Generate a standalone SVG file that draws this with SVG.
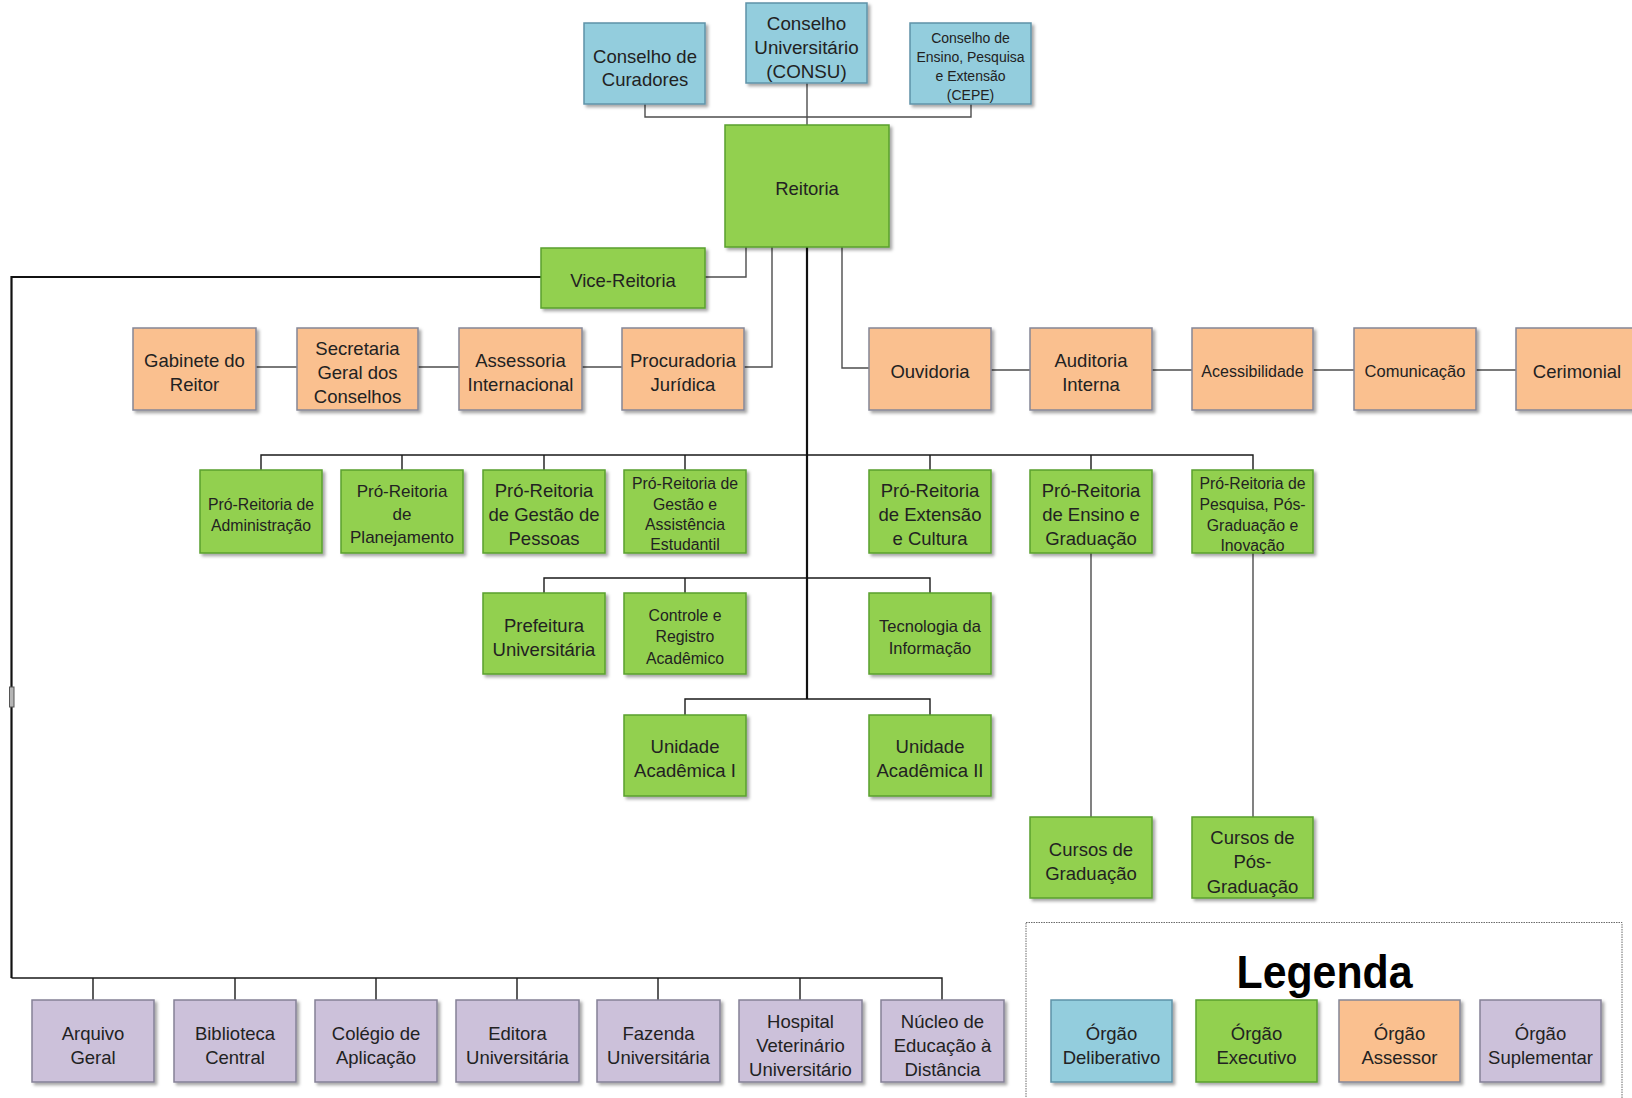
<svg xmlns="http://www.w3.org/2000/svg" width="1632" height="1098" viewBox="0 0 1632 1098">
<defs>
<filter id="sh" x="-10%" y="-10%" width="125%" height="130%">
<feDropShadow dx="2.5" dy="2.5" stdDeviation="1.5" flood-color="#000" flood-opacity="0.35"/>
</filter>
<style>
.box{stroke-width:1.5;filter:url(#sh)}
.blue{fill:#93CDDD;stroke:#5f93a8}
.green{fill:#92D050;stroke:#59a02e}
.orange{fill:#FAC08F;stroke:#858797}
.purple{fill:#CCC1DA;stroke:#858197}
text{font-family:"Liberation Sans",Arial,sans-serif;fill:#222;text-anchor:middle}
.t{font-size:18.5px}
.s{font-size:15.8px}
.m{font-size:17px}
.xs{font-size:14px}
.c{fill:none;stroke:#4d4d4d;stroke-width:1.4}
.k{fill:none;stroke:#1a1a1a;stroke-width:1.4}
.K{fill:none;stroke:#111;stroke-width:2.2}
</style>
</defs>
<rect width="1632" height="1098" fill="#fff"/>

<g id="connectors">
<path class="c" d="M645,104 V117 H971 V104"/>
<path class="c" d="M807,83 V125"/>
<path class="c" d="M705,277 H746 V247"/>
<path class="c" d="M744,367 H772 V247"/>
<path class="c" d="M842,247 V368 H869"/>
<path class="c" d="M256,367 H297 M418,367 H459 M582,367 H622"/>
<path class="c" d="M991,370 H1030 M1152,370 H1192 M1313,370 H1354 M1476,370 H1516"/>
<path class="c" d="M1091,553 V817 M1253,553 V817"/>
<path class="k" d="M261,470 V455 H1253 V470 M402,455 V470 M544,455 V470 M685,455 V470 M930,455 V470 M1091,455 V470"/>
<path class="k" d="M544,593 V578 H930 V593 M685,578 V593"/>
<path class="k" d="M685,715 V699 H930 V715"/>
<path class="k" d="M11.5,978 H942 V1000 M93,978 V1000 M235,978 V1000 M376,978 V1000 M517,978 V1000 M658,978 V1000 M800,978 V1000"/>
<path class="K" d="M807,247 V699"/>
<path class="K" d="M541,277 H11.5 V978"/>
<rect x="9.5" y="687" width="4.5" height="20" fill="#b5b5b5" stroke="#555" stroke-width="1"/>
</g>

<g id="curadores"><rect class="box blue" x="584" y="23" width="121" height="81"/>
<text class="t"><tspan x="645" y="62.5">Conselho de</tspan><tspan x="645" y="86">Curadores</tspan></text></g>
<g id="consu"><rect class="box blue" x="746" y="3" width="121" height="80"/>
<text class="t" style="font-size:18.8px"><tspan x="806.5" y="29.5">Conselho</tspan><tspan x="806.5" y="53.5">Universitário</tspan><tspan x="806.5" y="77.5">(CONSU)</tspan></text></g>
<g id="cepe"><rect class="box blue" x="910" y="23" width="121" height="81"/>
<text class="xs"><tspan x="970.5" y="42.5">Conselho de</tspan><tspan x="970.5" y="61.5">Ensino, Pesquisa</tspan><tspan x="970.5" y="80.5">e Extensão</tspan><tspan x="970.5" y="99.5">(CEPE)</tspan></text></g>

<g id="reitoria"><rect class="box green" x="725" y="125" width="164" height="122"/>
<text class="t" x="807" y="195">Reitoria</text></g>
<g id="vice-reitoria"><rect class="box green" x="541" y="248" width="164" height="60"/>
<text class="t" x="623" y="286.5">Vice-Reitoria</text></g>

<g id="gabinete"><rect class="box orange" x="133" y="328" width="123" height="82"/>
<text class="t"><tspan x="194.5" y="367">Gabinete do</tspan><tspan x="194.5" y="391">Reitor</tspan></text></g>
<g id="secretaria"><rect class="box orange" x="297" y="328" width="121" height="82"/>
<text class="t"><tspan x="357.5" y="355">Secretaria</tspan><tspan x="357.5" y="379">Geral dos</tspan><tspan x="357.5" y="403">Conselhos</tspan></text></g>
<g id="assessoria"><rect class="box orange" x="459" y="328" width="123" height="82"/>
<text class="t"><tspan x="520.5" y="367">Assessoria</tspan><tspan x="520.5" y="391">Internacional</tspan></text></g>
<g id="procuradoria"><rect class="box orange" x="622" y="328" width="122" height="82"/>
<text class="t"><tspan x="683" y="367">Procuradoria</tspan><tspan x="683" y="391">Jurídica</tspan></text></g>

<g id="ouvidoria"><rect class="box orange" x="869" y="328" width="122" height="82"/>
<text class="t" x="930" y="377.5">Ouvidoria</text></g>
<g id="auditoria"><rect class="box orange" x="1030" y="328" width="122" height="82"/>
<text class="t"><tspan x="1091" y="367">Auditoria</tspan><tspan x="1091" y="391">Interna</tspan></text></g>
<g id="acessibilidade"><rect class="box orange" x="1192" y="328" width="121" height="82"/>
<text style="font-size:16px" x="1252.5" y="376.5">Acessibilidade</text></g>
<g id="comunicacao"><rect class="box orange" x="1354" y="328" width="122" height="82"/>
<text style="font-size:16.5px" x="1415" y="376.5">Comunicação</text></g>
<g id="cerimonial"><rect class="box orange" x="1516" y="328" width="122" height="82"/>
<text class="t" x="1577" y="377.5">Cerimonial</text></g>

<g id="pr-administracao"><rect class="box green" x="200" y="470" width="122" height="83"/>
<text class="s"><tspan x="261" y="509.5">Pró-Reitoria de</tspan><tspan x="261" y="530.5">Administração</tspan></text></g>
<g id="pr-planejamento"><rect class="box green" x="341" y="470" width="122" height="83"/>
<text class="m"><tspan x="402" y="497">Pró-Reitoria</tspan><tspan x="402" y="520">de</tspan><tspan x="402" y="543">Planejamento</tspan></text></g>
<g id="pr-pessoas"><rect class="box green" x="483" y="470" width="122" height="83"/>
<text class="t"><tspan x="544" y="496.5">Pró-Reitoria</tspan><tspan x="544" y="520.5">de Gestão de</tspan><tspan x="544" y="545">Pessoas</tspan></text></g>
<g id="pr-estudantil"><rect class="box green" x="624" y="470" width="122" height="83"/>
<text class="s"><tspan x="685" y="488.5">Pró-Reitoria de</tspan><tspan x="685" y="509.5">Gestão e</tspan><tspan x="685" y="530">Assistência</tspan><tspan x="685" y="549.5">Estudantil</tspan></text></g>
<g id="pr-extensao"><rect class="box green" x="869" y="470" width="122" height="83"/>
<text class="t"><tspan x="930" y="496.5">Pró-Reitoria</tspan><tspan x="930" y="520.5">de Extensão</tspan><tspan x="930" y="545">e Cultura</tspan></text></g>
<g id="pr-ensino"><rect class="box green" x="1030" y="470" width="122" height="83"/>
<text class="t"><tspan x="1091" y="496.5">Pró-Reitoria</tspan><tspan x="1091" y="520.5">de Ensino e</tspan><tspan x="1091" y="545">Graduação</tspan></text></g>
<g id="pr-pesquisa"><rect class="box green" x="1192" y="470" width="121" height="83"/>
<text class="s"><tspan x="1252.5" y="488.5">Pró-Reitoria de</tspan><tspan x="1252.5" y="509.5">Pesquisa, Pós-</tspan><tspan x="1252.5" y="531">Graduação e</tspan><tspan x="1252.5" y="550.5">Inovação</tspan></text></g>

<g id="prefeitura"><rect class="box green" x="483" y="593" width="122" height="81"/>
<text class="t"><tspan x="544" y="632">Prefeitura</tspan><tspan x="544" y="656">Universitária</tspan></text></g>
<g id="controle"><rect class="box green" x="624" y="593" width="122" height="81"/>
<text class="s"><tspan x="685" y="620.5">Controle e</tspan><tspan x="685" y="642">Registro</tspan><tspan x="685" y="663.5">Acadêmico</tspan></text></g>
<g id="tecnologia"><rect class="box green" x="869" y="593" width="122" height="81"/>
<text style="font-size:16.5px"><tspan x="930" y="631.5">Tecnologia da</tspan><tspan x="930" y="654">Informação</tspan></text></g>

<g id="unidade-1"><rect class="box green" x="624" y="715" width="122" height="81"/>
<text class="t"><tspan x="685" y="753">Unidade</tspan><tspan x="685" y="777">Acadêmica I</tspan></text></g>
<g id="unidade-2"><rect class="box green" x="869" y="715" width="122" height="81"/>
<text class="t"><tspan x="930" y="753">Unidade</tspan><tspan x="930" y="777">Acadêmica II</tspan></text></g>

<g id="cursos-graduacao"><rect class="box green" x="1030" y="817" width="122" height="81"/>
<text class="t"><tspan x="1091" y="855.5">Cursos de</tspan><tspan x="1091" y="879.5">Graduação</tspan></text></g>
<g id="cursos-pos"><rect class="box green" x="1192" y="817" width="121" height="81"/>
<text class="t"><tspan x="1252.5" y="843.5">Cursos de</tspan><tspan x="1252.5" y="868">Pós-</tspan><tspan x="1252.5" y="893">Graduação</tspan></text></g>

<g id="arquivo"><rect class="box purple" x="32" y="1000" width="122" height="82"/>
<text class="t"><tspan x="93" y="1040">Arquivo</tspan><tspan x="93" y="1064">Geral</tspan></text></g>
<g id="biblioteca"><rect class="box purple" x="174" y="1000" width="122" height="82"/>
<text class="t"><tspan x="235" y="1040">Biblioteca</tspan><tspan x="235" y="1064">Central</tspan></text></g>
<g id="colegio"><rect class="box purple" x="315" y="1000" width="122" height="82"/>
<text class="t"><tspan x="376" y="1040">Colégio de</tspan><tspan x="376" y="1064">Aplicação</tspan></text></g>
<g id="editora"><rect class="box purple" x="456" y="1000" width="123" height="82"/>
<text class="t"><tspan x="517.5" y="1040">Editora</tspan><tspan x="517.5" y="1064">Universitária</tspan></text></g>
<g id="fazenda"><rect class="box purple" x="597" y="1000" width="123" height="82"/>
<text class="t"><tspan x="658.5" y="1040">Fazenda</tspan><tspan x="658.5" y="1064">Universitária</tspan></text></g>
<g id="hospital"><rect class="box purple" x="739" y="1000" width="123" height="82"/>
<text class="t"><tspan x="800.5" y="1027.5">Hospital</tspan><tspan x="800.5" y="1051.5">Veterinário</tspan><tspan x="800.5" y="1076">Universitário</tspan></text></g>
<g id="nucleo"><rect class="box purple" x="881" y="1000" width="123" height="82"/>
<text class="t"><tspan x="942.5" y="1027.5">Núcleo de</tspan><tspan x="942.5" y="1051.5">Educação à</tspan><tspan x="942.5" y="1076">Distância</tspan></text></g>

<g id="legenda">
<rect x="1026" y="922.5" width="596" height="185" fill="none" stroke="#6a6a6a" stroke-width="1" stroke-dasharray="1.5,1"/>
<text x="1324.5" y="988" style="font-size:47px;font-weight:bold;fill:#000" textLength="176" lengthAdjust="spacingAndGlyphs">Legenda</text>
<g id="leg-deliberativo"><rect class="box blue" x="1051" y="1000" width="121" height="82"/>
<text class="t"><tspan x="1111.5" y="1040">Órgão</tspan><tspan x="1111.5" y="1064">Deliberativo</tspan></text></g>
<g id="leg-executivo"><rect class="box green" x="1196" y="1000" width="121" height="82"/>
<text class="t"><tspan x="1256.5" y="1040">Órgão</tspan><tspan x="1256.5" y="1064">Executivo</tspan></text></g>
<g id="leg-assessor"><rect class="box orange" x="1339" y="1000" width="121" height="82"/>
<text class="t"><tspan x="1399.5" y="1040">Órgão</tspan><tspan x="1399.5" y="1064">Assessor</tspan></text></g>
<g id="leg-suplementar"><rect class="box purple" x="1480" y="1000" width="121" height="82"/>
<text class="t"><tspan x="1540.5" y="1040">Órgão</tspan><tspan x="1540.5" y="1064">Suplementar</tspan></text></g>
</g>
</svg>
